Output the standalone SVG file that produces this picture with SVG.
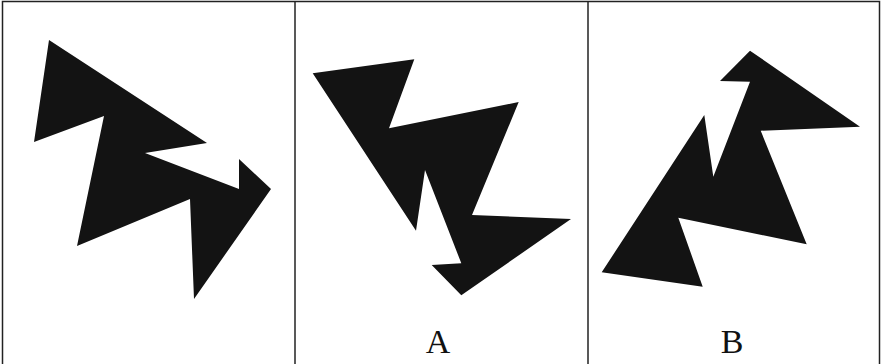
<svg xmlns="http://www.w3.org/2000/svg" width="881" height="364" viewBox="0 0 881 364">
<style>
.frame{fill:none;stroke:#222;stroke-width:1.5}
.shape{fill:#131313;stroke:none}
.lbl{font-family:"Liberation Serif","Times New Roman",serif;font-size:34px;fill:#111;text-anchor:middle}
</style>
<rect width="881" height="364" fill="#fff"/>
<g id="frame">
<rect class="frame" x="2.5" y="1.5" width="877" height="372"/>
<line class="frame" x1="295" y1="1.5" x2="295" y2="364"/>
<line class="frame" x1="588" y1="1.5" x2="588" y2="364"/>
</g>
<g id="original">
<polygon class="shape" points="49,40 207,143 145,153 239,189 239,159 271,189 194,299 190,199 77,246 104,116 34,142"/>
</g>
<g id="optionA">
<polygon class="shape" points="312.7,73.3 414.3,59.3 389,128.3 518.7,102 472,215 571,219 461.3,295.3 431.7,265 461.3,263.3 425,170 416,230.7"/>
<text class="lbl" x="438" y="353">A</text>
</g>
<g id="optionB">
<polygon class="shape" points="750,50.7 860,126.7 760.7,130.7 806.7,244.3 678.3,217.7 702.7,286.7 601.7,272.3 704.3,115 713.3,176.7 750,81.7 720,81"/>
<text class="lbl" x="732" y="353">B</text>
</g>
</svg>
